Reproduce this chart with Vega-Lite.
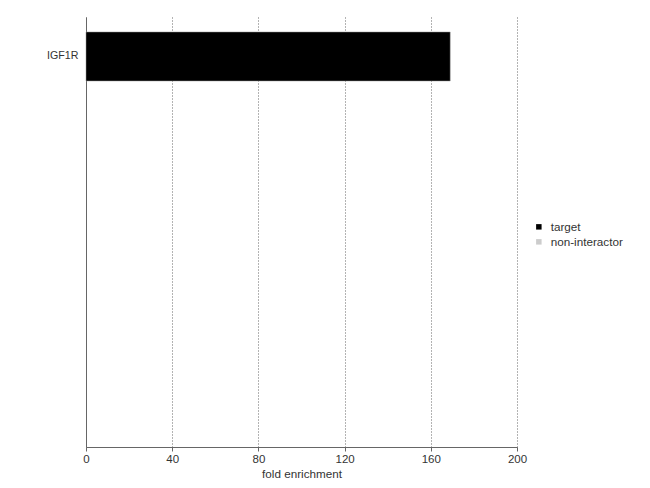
{
  "$schema": "https://vega.github.io/schema/vega-lite/v6.json",
  "autosize": "none",
  "padding": {"left": 86, "top": 17, "right": 133, "bottom": 41},
  "width": 431,
  "height": 430,
  "background": "white",
  "config": {
    "font": "Liberation Sans",
    "view": {"stroke": null}
  },
  "data": {
    "values": [
      {"gene": "IGF1R", "fold": 169, "type": "target"}
    ]
  },
  "mark": {"type": "bar", "stroke": "#999999", "strokeWidth": 0.5},
  "encoding": {
    "y": {
      "field": "gene",
      "type": "nominal",
      "title": null,
      "scale": {
        "domain": ["IGF1R", " ", "  ", "   ", "    ", "     ", "      "],
        "paddingInner": 0.162,
        "paddingOuter": 0.256
      },
      "axis": {
        "ticks": false,
        "labelFontSize": 10.7,
        "labelColor": "#333333",
        "labelPadding": 8,
        "domainColor": "#666666",
        "grid": false
      }
    },
    "x": {
      "field": "fold",
      "type": "quantitative",
      "title": "fold enrichment",
      "scale": {"domain": [0, 200], "nice": false},
      "axis": {
        "values": [0, 40, 80, 120, 160, 200],
        "grid": true,
        "gridDash": [1, 2],
        "gridColor": "#666666",
        "gridWidth": 1,
        "domainColor": "#666666",
        "tickColor": "#666666",
        "tickSize": 4,
        "labelFlush": false,
        "labelFontSize": 11.5,
        "labelColor": "#333333",
        "titleFontSize": 11.7,
        "titleFontWeight": "normal",
        "titleColor": "#333333",
        "titlePadding": 4
      }
    },
    "color": {
      "field": "type",
      "type": "nominal",
      "scale": {"domain": ["target", "non-interactor"], "range": ["black", "#cccccc"]},
      "legend": {
        "title": null,
        "orient": "none",
        "legendX": 447,
        "legendY": 204,
        "symbolType": "square",
        "symbolSize": 30,
        "symbolStrokeWidth": 0,
        "labelFontSize": 11.7,
        "labelColor": "#333333",
        "labelOffset": 6
      }
    }
  }
}
